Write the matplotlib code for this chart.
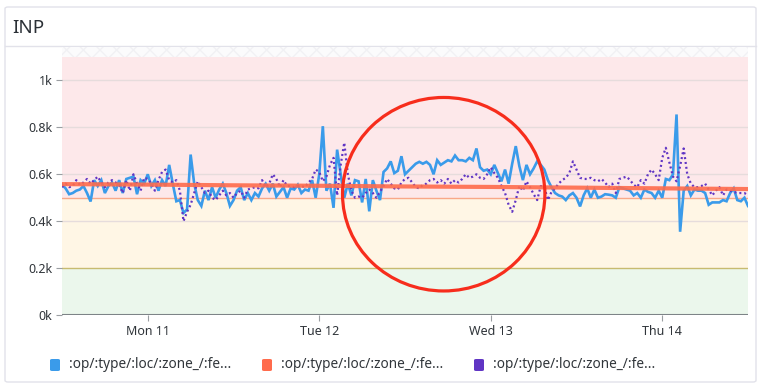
import numpy as np
import pandas as pd
import matplotlib
matplotlib.use('Agg')
import matplotlib.pyplot as plt
import matplotlib.dates as mdates
from matplotlib.patches import Ellipse, Rectangle, FancyBboxPatch
from matplotlib.ticker import FuncFormatter, FixedLocator

plt.rcParams['font.family'] = ['Noto Sans', 'DejaVu Sans']

# half-hourly samples, Sun 10 12:00 -> Thu 14 12:00 (ms)
start = '2023-09-10 12:00'
blue_ms = [
    556, 540, 515, 520, 530, 535, 550, 520, 484, 575,
    550, 575, 520, 550, 565, 530, 575, 520, 580, 585,
    590, 515, 575, 560, 600, 550, 575, 530, 575, 550,
    640, 560, 485, 490, 435, 450, 684, 560, 490, 465,
    530, 490, 545, 500, 535, 560, 520, 465, 490, 530,
    545, 490, 520, 490, 520, 505, 540, 560, 530, 560,
    505, 525, 545, 500, 540, 535, 555, 520, 535, 530,
    575, 500, 600, 805, 530, 560, 457, 705, 600, 500,
    560, 510, 575, 570, 480, 580, 442, 575, 530, 490,
    610, 625, 655, 605, 615, 677, 600, 615, 630, 645,
    653, 645, 653, 640, 600, 660, 640, 650, 660, 655,
    680, 660, 660, 655, 670, 660, 710, 630, 615, 620,
    600, 640, 605, 570, 620, 560, 645, 720, 635, 575,
    640, 600, 625, 655, 640, 620, 575, 545, 520, 510,
    505, 490, 510, 520, 500, 463, 510, 540, 500, 535,
    500, 505, 515, 513, 510, 500, 545, 540, 535, 530,
    510, 520, 500, 535, 525, 520, 500, 530, 500, 580,
    575, 600, 855, 355, 530, 550, 510, 535, 530, 530,
    520, 470, 480, 480, 480, 490, 485, 520, 540, 490,
    485, 500, 465,
]
purple_ms = [
    545, 560, 545, 550, 575, 555, 565, 580, 560, 575,
    590, 565, 545, 565, 575, 565, 555, 520, 575, 530,
    600, 560, 530, 585, 580, 560, 530, 575, 610, 620,
    575, 565, 575, 530, 400, 440, 470, 520, 570, 545,
    520, 530, 500, 490, 510, 530, 510, 520, 500, 520,
    530, 500, 535, 540, 545, 540, 575, 545, 560, 600,
    580, 545, 575, 550, 550, 545, 550, 550, 545, 565,
    580, 620, 610, 570, 590, 640, 670, 510, 640, 735,
    600, 530, 500, 505, 500, 520, 535, 520, 500, 525,
    550, 580, 560, 540, 535, 565, 580, 585, 565, 545,
    540, 555, 560, 575, 580, 565, 575, 560, 580, 560,
    575, 565, 580, 600, 585, 590, 600, 585, 580, 600,
    630, 605, 585, 550, 520, 470, 440, 490, 550, 530,
    570, 545, 515, 490, 550, 545, 490, 525, 540, 560,
    575, 585, 605, 655, 620, 585, 580, 580, 585, 575,
    570, 580, 565, 545, 560, 520, 580, 585, 590, 575,
    555, 545, 575, 560, 600, 620, 600, 575, 670, 713,
    650, 590, 570, 635, 710, 600, 560, 545, 545, 550,
    560, 535, 510, 530, 545, 510, 535, 530, 525, 520,
    520, 520, 510,
]
# trend line, every 12 h
trend_ms = [558, 556, 553, 551, 548, 546, 543, 540, 537]

y_ticks = [0, 200, 400, 600, 800, 1000]
legend_labels = [':op/:type/:loc/:zone_/:fe...'] * 3

times = pd.date_range(start, periods=len(blue_ms), freq='30min')
trend_times = pd.date_range(start, periods=len(trend_ms), freq='12h')

BLUE = '#3a9bea'
ORANGE = '#ff6b4c'
PURPLE = '#6035c4'

fig = plt.figure(figsize=(7.62, 3.88), dpi=100)

# panel frame + header separator
frame = FancyBboxPatch((5 / 762, 6 / 388), 751 / 762, 375 / 388,
                       boxstyle='round,pad=0,rounding_size=0.004',
                       transform=fig.transFigure, fc='none', ec='#e2e2ea',
                       lw=1, zorder=-5)
fig.patches.append(frame)
fig.add_artist(plt.Line2D([5 / 762, 756 / 762], [1 - 46 / 388] * 2,
                          transform=fig.transFigure, color='#e2e2ea', lw=1))
fig.text(12 / 762, 1 - 28 / 388, 'INP', fontsize=13.5, color='#2b3036',
         va='center', ha='left')

ax = fig.add_axes([62 / 762, 1 - 315 / 388, 686 / 762, 258 / 388])
ax.set_zorder(2)
ax.set_xlim(times[0], times[-1])
ax.set_ylim(0, 1100)

# threshold bands
ax.axhspan(0, 200, color='#ebf7ec', zorder=0, lw=0)
ax.axhspan(200, 500, color='#fff6e5', zorder=0, lw=0)
ax.axhspan(500, 1100, color='#fde8ea', zorder=0, lw=0)
for v in [400, 600, 800, 1000]:
    ax.axhline(v, color='#e6dcdc', lw=1, zorder=1)
ax.axhline(200, color='#c8bb70', lw=1, zorder=1)
ax.axhline(500, color='#f9a889', lw=1, zorder=1)
ax.axhline(0, color='#7d8487', lw=1.5, zorder=3)

# faint hatched strip above the plot
ax.add_patch(Rectangle((0, 1.0), 1, 10 / 258, transform=ax.transAxes,
                       fc='#fbfbfc', ec='#f1f1f4', hatch='xx', lw=0,
                       clip_on=False, zorder=0))

ax.plot(times, blue_ms, color=BLUE, lw=1.9, zorder=4, solid_joinstyle='miter')
ax.plot(times, purple_ms, color=PURPLE, lw=1.6, ls=(0, (0.9, 1.3)), zorder=5)
ax.plot(trend_times, trend_ms, color=ORANGE, lw=3, alpha=0.9, zorder=6)

# annotation ellipse
cx = mdates.date2num(pd.Timestamp('2023-09-12 17:25'))
ax.add_patch(Ellipse((cx, 515), width=1.18, height=825, fill=False,
                     ec='#f72d1c', lw=2.3, zorder=7, clip_on=False))

ax.yaxis.set_major_locator(FixedLocator(y_ticks))
ax.yaxis.set_major_formatter(FuncFormatter(lambda v, p: f'{v / 1000:g}k'))
ax.xaxis.set_major_locator(mdates.DayLocator())
ax.xaxis.set_major_formatter(mdates.DateFormatter('%a %d'))
ax.tick_params(axis='both', labelsize=9, colors='#30353a', length=4,
               width=0.8, pad=3)
ax.tick_params(axis='both', color='#9a9ea2')
for s in ax.spines.values():
    s.set_visible(False)

# legend
for i, lab in enumerate(legend_labels):
    x0 = (50 + i * 212) / 762
    col = [BLUE, ORANGE, PURPLE][i]
    fig.patches.append(FancyBboxPatch((x0, 1 - 371 / 388), 10 / 762, 12 / 388,
                                      boxstyle='round,pad=0,rounding_size=0.003',
                                      transform=fig.transFigure, fc=col, ec='none'))
    fig.text(x0 + 19 / 762, 1 - 365 / 388, lab, fontsize=9.8, color='#30353a',
             va='center', ha='left')

fig.savefig('out.png', dpi=100)
